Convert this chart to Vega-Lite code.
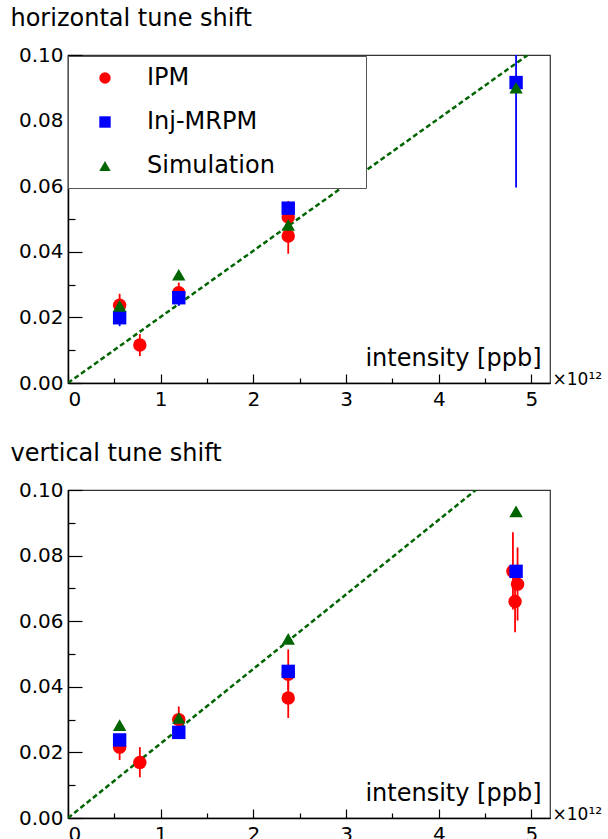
{
  "$schema": "https://vega.github.io/schema/vega-lite/v6.json",
  "background": "white",
  "padding": {"left": 9, "top": 6, "right": 0, "bottom": 0},
  "config": {
    "font": "DejaVu Sans",
    "view": {"stroke": "#333", "strokeWidth": 1.2},
    "axis": {"domainColor": "#000", "domainWidth": 1.5, "tickColor": "#000", "tickWidth": 1.2, "labelFontSize": 20, "labelColor": "#000", "grid": false, "labelFont": "DejaVu Sans", "titleFont": "DejaVu Sans", "titleFontWeight": "normal", "titleColor": "#000"},
    "title": {"fontSize": 23, "fontWeight": "normal", "anchor": "start", "color": "#000", "font": "DejaVu Sans"}
  },
  "datasets": {
    "h": [
      {"series": "IPM", "x": 0.557, "y": 0.0237, "lo": 0.0205, "hi": 0.0272},
      {"series": "IPM", "x": 0.775, "y": 0.0116, "lo": 0.0082, "hi": 0.0149},
      {"series": "IPM", "x": 1.195, "y": 0.0275, "lo": 0.0245, "hi": 0.0306},
      {"series": "IPM", "x": 2.376, "y": 0.0506, "lo": 0.0480, "hi": 0.0555},
      {"series": "IPM", "x": 2.376, "y": 0.0448, "lo": 0.0394, "hi": 0.0500},
      {"series": "Inj-MRPM", "x": 0.557, "y": 0.0199, "lo": 0.0173, "hi": 0.0225},
      {"series": "Inj-MRPM", "x": 1.195, "y": 0.0260, "lo": 0.0235, "hi": 0.0285},
      {"series": "Inj-MRPM", "x": 2.376, "y": 0.0533, "lo": 0.0515, "hi": 0.0551},
      {"series": "Inj-MRPM", "x": 4.834, "y": 0.0916, "lo": 0.0596, "hi": 0.1236},
      {"series": "Simulation", "x": 0.557, "y": 0.0235},
      {"series": "Simulation", "x": 1.195, "y": 0.0330},
      {"series": "Simulation", "x": 2.376, "y": 0.0482},
      {"series": "Simulation", "x": 4.834, "y": 0.0900}
    ],
    "v": [
      {"series": "IPM", "x": 0.557, "y": 0.0216, "lo": 0.0177, "hi": 0.0255},
      {"series": "IPM", "x": 0.775, "y": 0.0169, "lo": 0.0124, "hi": 0.0216},
      {"series": "IPM", "x": 1.195, "y": 0.0300, "lo": 0.0262, "hi": 0.0340},
      {"series": "IPM", "x": 2.376, "y": 0.0438, "lo": 0.0390, "hi": 0.0514},
      {"series": "IPM", "x": 2.376, "y": 0.0366, "lo": 0.0305, "hi": 0.0427},
      {"series": "IPM", "x": 4.800, "y": 0.0752, "lo": 0.0636, "hi": 0.0871},
      {"series": "IPM", "x": 4.823, "y": 0.0660, "lo": 0.0566, "hi": 0.0755},
      {"series": "IPM", "x": 4.850, "y": 0.0713, "lo": 0.0602, "hi": 0.0825},
      {"series": "Inj-MRPM", "x": 0.557, "y": 0.0238, "lo": 0.0225, "hi": 0.0251},
      {"series": "Inj-MRPM", "x": 1.195, "y": 0.0261, "lo": 0.0248, "hi": 0.0274},
      {"series": "Inj-MRPM", "x": 2.376, "y": 0.0447, "lo": 0.0432, "hi": 0.0462},
      {"series": "Inj-MRPM", "x": 4.834, "y": 0.0752, "lo": 0.0738, "hi": 0.0766},
      {"series": "Simulation", "x": 0.557, "y": 0.0283},
      {"series": "Simulation", "x": 1.195, "y": 0.0305},
      {"series": "Simulation", "x": 2.376, "y": 0.0546},
      {"series": "Simulation", "x": 4.834, "y": 0.0935}
    ],
    "hline": [{"x": 0, "y": 0}, {"x": 4.96, "y": 0.1}],
    "vline": [{"x": 0, "y": 0}, {"x": 4.40, "y": 0.1}]
  },
  "spacing": 31,
  "resolve": {"scale": {"color": "independent", "shape": "independent", "stroke": "independent"}, "legend": {"color": "independent", "shape": "independent", "stroke": "independent"}},
  "vconcat": [
    {
      "title": {"text": "horizontal tune shift", "dx": -8, "fontSize": 24, "baseline": "alphabetic", "offset": -5},
      "width": 482,
      "height": 328,
      "resolve": {"axis": {"x": "independent", "y": "independent"}},
      "layer": [
        {
          "data": {"name": "hline"},
          "mark": {"type": "line", "color": "#006400", "strokeDash": [5, 3], "strokeWidth": 2.5, "clip": true},
          "encoding": {
            "x": {"field": "x", "type": "quantitative", "scale": {"domain": [0, 5.2], "nice": false, "zero": false},
                  "axis": {"orient": "bottom", "values": [0, 1, 2, 3, 4, 5], "format": "d", "tickSize": -9, "labelPadding": 15, "title": "intensity [ppb]", "titleFontSize": 24, "titleX": 473, "titleY": -18, "titleAlign": "right", "titleAnchor": "end", "titleBaseline": "alphabetic"}},
            "y": {"field": "y", "type": "quantitative", "scale": {"domain": [0, 0.1], "nice": false},
                  "axis": {"orient": "left", "values": [0, 0.02, 0.04, 0.06, 0.08, 0.1], "format": ".2f", "tickSize": -14, "labelPadding": 19, "title": null}}
          }
        },
        {
          "data": {"name": "h"},
          "mark": {"type": "rule", "strokeWidth": 1.8, "clip": true},
          "encoding": {
            "x": {"field": "x", "type": "quantitative",
                  "axis": {"orient": "bottom", "values": [0.5, 1.5, 2.5, 3.5, 4.5], "tickSize": -5, "labels": false, "domain": false, "title": "×10¹²", "titleFontSize": 17, "titleX": 484, "titleY": 1, "titleAlign": "left", "titleAnchor": "start", "titleBaseline": "alphabetic"}},
            "y": {"field": "lo", "type": "quantitative",
                  "axis": {"orient": "left", "values": [0.01, 0.03, 0.05, 0.07, 0.09], "tickSize": -7, "labels": false, "domain": false, "title": null}},
            "y2": {"field": "hi"},
            "stroke": {"field": "series", "type": "nominal", "scale": {"range": ["#ff0000", "#0000ff", "#006400"]}, "legend": null}
          }
        },
        {
          "data": {"name": "h"},
          "mark": {"type": "point", "filled": true, "opacity": 1, "size": 180},
          "encoding": {
            "x": {"field": "x", "type": "quantitative", "axis": null},
            "y": {"field": "y", "type": "quantitative", "axis": null},
            "color": {"field": "series", "type": "nominal", "scale": {"domain": ["IPM", "Inj-MRPM", "Simulation"], "range": ["#ff0000", "#0000ff", "#006400"]},
                      "legend": {"orient": "none", "legendX": 0, "legendY": 1,
                                 "title": "⠀⠀⠀⠀", "titleOrient": "right", "titleAngle": 0, "titleFontSize": 24, "titlePadding": 6, "titleFont": "DejaVu Sans",
                                 "padding": 10, "rowPadding": 20, "strokeColor": "#555", "fillColor": "white", "labelFontSize": 24, "labelFont": "DejaVu Sans", "labelColor": "#000", "labelOffset": 30, "symbolSize": 130, "symbolOffset": 15, "symbolOpacity": 1}},
            "shape": {"field": "series", "type": "nominal", "scale": {"domain": ["IPM", "Inj-MRPM", "Simulation"], "range": ["circle", "square", "triangle-up"]}, "legend": null}
          }
        }
      ]
    },
    {
      "title": {"text": "vertical tune shift", "dx": -8, "fontSize": 24, "baseline": "alphabetic", "offset": -5},
      "width": 482,
      "height": 328,
      "resolve": {"axis": {"x": "independent", "y": "independent"}},
      "layer": [
        {
          "data": {"name": "vline"},
          "mark": {"type": "line", "color": "#006400", "strokeDash": [5, 3], "strokeWidth": 2.5, "clip": true},
          "encoding": {
            "x": {"field": "x", "type": "quantitative", "scale": {"domain": [0, 5.2], "nice": false, "zero": false},
                  "axis": {"orient": "bottom", "values": [0, 1, 2, 3, 4, 5], "format": "d", "tickSize": -9, "labelPadding": 15, "title": "intensity [ppb]", "titleFontSize": 24, "titleX": 473, "titleY": -18, "titleAlign": "right", "titleAnchor": "end", "titleBaseline": "alphabetic"}},
            "y": {"field": "y", "type": "quantitative", "scale": {"domain": [0, 0.1], "nice": false},
                  "axis": {"orient": "left", "values": [0, 0.02, 0.04, 0.06, 0.08, 0.1], "format": ".2f", "tickSize": -14, "labelPadding": 19, "title": null}}
          }
        },
        {
          "data": {"name": "v"},
          "mark": {"type": "rule", "strokeWidth": 1.8, "clip": true},
          "encoding": {
            "x": {"field": "x", "type": "quantitative",
                  "axis": {"orient": "bottom", "values": [0.5, 1.5, 2.5, 3.5, 4.5], "tickSize": -5, "labels": false, "domain": false, "title": "×10¹²", "titleFontSize": 17, "titleX": 484, "titleY": 1, "titleAlign": "left", "titleAnchor": "start", "titleBaseline": "alphabetic"}},
            "y": {"field": "lo", "type": "quantitative",
                  "axis": {"orient": "left", "values": [0.01, 0.03, 0.05, 0.07, 0.09], "tickSize": -7, "labels": false, "domain": false, "title": null}},
            "y2": {"field": "hi"},
            "stroke": {"field": "series", "type": "nominal", "scale": {"range": ["#ff0000", "#0000ff", "#006400"]}, "legend": null}
          }
        },
        {
          "data": {"name": "v"},
          "mark": {"type": "point", "filled": true, "opacity": 1, "size": 180},
          "encoding": {
            "x": {"field": "x", "type": "quantitative", "axis": null},
            "y": {"field": "y", "type": "quantitative", "axis": null},
            "color": {"field": "series", "type": "nominal", "scale": {"domain": ["IPM", "Inj-MRPM", "Simulation"], "range": ["#ff0000", "#0000ff", "#006400"]}, "legend": null},
            "shape": {"field": "series", "type": "nominal", "scale": {"domain": ["IPM", "Inj-MRPM", "Simulation"], "range": ["circle", "square", "triangle-up"]}, "legend": null}
          }
        }
      ]
    }
  ]
}
